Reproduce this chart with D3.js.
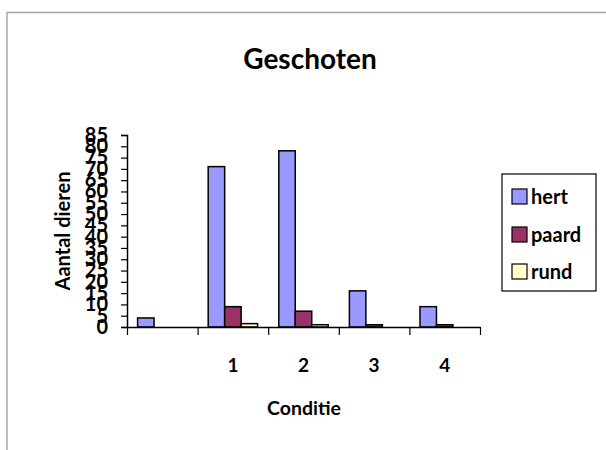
<!DOCTYPE html>
<html><head><meta charset="utf-8">
<script src="https://cdn.jsdelivr.net/npm/d3@7"></script>
<style>
body{margin:0;background:#fff;}
text{font-family:Lato,"Open Sans",sans-serif;font-weight:bold;fill:#000;}
</style></head>
<body>
<svg id="c" width="606" height="450"></svg>
<script>
const categories = ["", "1", "2", "3", "4"];
const seriesNames = ["hert", "paard", "rund"];
const hert = [4, 71, 78, 16, 9];
const paard = [0, 9, 7, 1, 1];
const rund = [0, 1.5, 1, 0, 0];
const yTicks = d3.range(0, 86, 5);
const colors = ["#9999FF", "#993366", "#FFFFCC"];
const seriesValues = [hert, paard, rund];

const svg = d3.select("#c");
// chart area border
svg.append("rect").attr("x", 7).attr("y", 12.5).attr("width", 620).attr("height", 460)
  .attr("fill", "#fff").attr("stroke", "#a6a6a6").attr("stroke-width", 1.5);

const x0 = 127, x1 = 480, yTop = 135, yBot = 327;
const xBand = d3.scaleBand().domain(d3.range(categories.length)).range([x0, x1]).padding(0);
const bw = xBand.bandwidth();
const xSub = d3.scaleBand().domain(seriesNames).range([bw * 0.15, bw * 0.85]).padding(0);
const xLin = d3.scaleLinear().domain([0, categories.length]).range([x0, x1]);
const y = d3.scaleLinear().domain([0, 85]).range([yBot, yTop]);

// bars
categories.forEach((c, i) => {
  seriesNames.forEach((s, j) => {
    const v = seriesValues[j][i];
    if (v <= 0) return;
    svg.append("rect")
      .attr("x", xBand(i) + xSub(s))
      .attr("y", y(v))
      .attr("width", xSub.bandwidth())
      .attr("height", yBot - y(v))
      .attr("fill", colors[j]).attr("stroke", "#000").attr("stroke-width", 1.5);
  });
});

// y axis
const ya = svg.append("g").attr("transform", `translate(${x0},0)`)
  .call(d3.axisLeft(y).tickValues(yTicks).tickSize(6).tickPadding(13));
ya.select(".domain").attr("stroke", "#000").attr("stroke-width", 1.5);
ya.selectAll(".tick line").attr("stroke", "#000").attr("stroke-width", 1.2);
ya.selectAll("text").style("font-size", "20px").style("font-family", "Lato").style("font-weight", "bold");

// x axis
const xa = svg.append("g").attr("transform", `translate(0,${yBot})`)
  .call(d3.axisBottom(xLin).tickValues(d3.range(categories.length + 1)).tickFormat("").tickSize(8).tickSizeOuter(0));
xa.select(".domain").attr("stroke", "#000").attr("stroke-width", 1.5);
xa.selectAll(".tick line").attr("stroke", "#000").attr("stroke-width", 1.2);

svg.selectAll(".xlab").data(categories).enter().append("text")
  .attr("class", "xlab")
  .attr("x", (d, i) => xBand(i) + bw / 2)
  .attr("y", 372).attr("text-anchor", "middle")
  .style("font-size", "19px").text(d => d);

// titles
svg.append("text").attr("x", 310).attr("y", 69).attr("text-anchor", "middle")
  .style("font-size", "28px").text("Geschoten");
svg.append("text").attr("x", 304).attr("y", 415).attr("text-anchor", "middle")
  .style("font-size", "19.5px").text("Conditie");
svg.append("text").attr("transform", "translate(70,231) rotate(-90)").attr("text-anchor", "middle")
  .style("font-size", "20px").text("Aantal dieren");

// legend
const lg = svg.append("g");
lg.append("rect").attr("x", 502).attr("y", 174).attr("width", 94).attr("height", 117)
  .attr("fill", "#fff").attr("stroke", "#000").attr("stroke-width", 1.2);
const ly = [197, 235, 272];
seriesNames.forEach((s, j) => {
  lg.append("rect").attr("x", 512).attr("y", ly[j] - 8).attr("width", 15).attr("height", 15)
    .attr("fill", colors[j]).attr("stroke", "#000").attr("stroke-width", 1.2);
  lg.append("text").attr("x", 531).attr("y", ly[j] + 7).style("font-size", "20px").text(s);
});
</script>
</body></html>
